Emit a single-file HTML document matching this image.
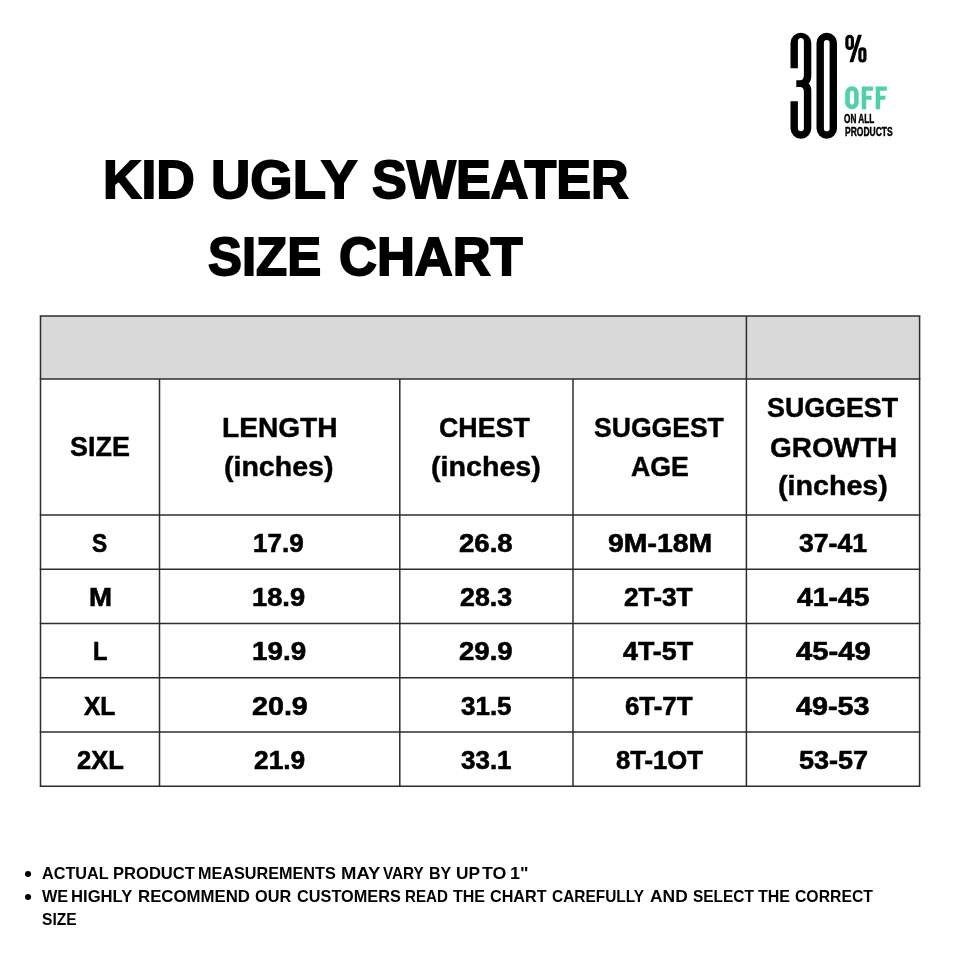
<!DOCTYPE html>
<html lang="en">
<head>
<meta charset="utf-8">
<title>Kid Ugly Sweater Size Chart</title>
<style>
html,body{margin:0;padding:0;background:#fff;}
body{width:960px;height:960px;position:relative;overflow:hidden;font-family:"Liberation Sans",sans-serif;color:#000;}
.t{position:absolute;white-space:nowrap;line-height:1;font-weight:700;transform-origin:0 0;display:block;}
svg{position:absolute;left:0;top:0;overflow:visible;}
#grid line{stroke:#2c2c2c;stroke-width:1.5;}
#txt{position:absolute;left:0;top:0;width:960px;height:960px;will-change:transform;}
.dot{position:absolute;width:5px;height:5px;border-radius:50%;background:#000;}
</style>
</head>
<body>
<svg id="grid" width="960" height="960" viewBox="0 0 960 960">
<rect x="40.5" y="316.0" width="879.1" height="63.0" fill="#d9d9d9"/>
<line x1="39.75" x2="920.35" y1="316.0" y2="316.0"/>
<line x1="39.75" x2="920.35" y1="379.0" y2="379.0"/>
<line x1="39.75" x2="920.35" y1="515.1" y2="515.1"/>
<line x1="39.75" x2="920.35" y1="569.3" y2="569.3"/>
<line x1="39.75" x2="920.35" y1="623.5" y2="623.5"/>
<line x1="39.75" x2="920.35" y1="677.8" y2="677.8"/>
<line x1="39.75" x2="920.35" y1="732.0" y2="732.0"/>
<line x1="39.75" x2="920.35" y1="786.2" y2="786.2"/>
<line x1="40.5" x2="40.5" y1="316.0" y2="786.2"/>
<line x1="919.6" x2="919.6" y1="316.0" y2="786.2"/>
<line x1="746.4" x2="746.4" y1="316.0" y2="786.2"/>
<line x1="159.5" x2="159.5" y1="379.0" y2="786.2"/>
<line x1="399.8" x2="399.8" y1="379.0" y2="786.2"/>
<line x1="573.0" x2="573.0" y1="379.0" y2="786.2"/>
</svg>
<svg id="badge" width="960" height="960" viewBox="0 0 960 960">
<path fill="#000" d="M790.5 68.3 V43.1 A10.4 10.4 0 0 1 811.3 43.1 V75.5 Q811.3 81.5 808.6 83.4 Q811.3 85.3 811.3 91.2 V128.3 A10.4 10.4 0 0 1 790.5 128.3 V101.2 H797.9 V128.3 A3 3 0 0 0 803.9 128.3 V92 Q803.9 86.9 800 86.9 H796.3 V80.3 H800 Q803.9 80.3 803.9 75 V41.5 A3 3.5 0 0 0 797.9 41.5 V68.3 Z"/>
<rect x="820.2" y="36.4" width="13.1" height="98.6" rx="6.55" ry="6.55" fill="none" stroke="#000" stroke-width="7.4"/>
<g fill="none" stroke="#000" stroke-width="3.2">
<rect x="846.9" y="36.3" width="5.5" height="12.1" rx="2.75"/>
<rect x="859.9" y="48.9" width="5" height="12.1" rx="2.5"/>
</g>
<path d="M858 34.7 H861.9 L853.3 62.3 H849.4 Z" fill="#000"/>
<g fill="#50d0a9">
<path fill-rule="evenodd" d="M845.2 93 A6.75 6.75 0 0 1 858.7 93 V102.6 A6.75 6.75 0 0 1 845.2 102.6 Z M849.8 93 V102.6 A2.15 2.15 0 0 0 854.1 102.6 V93 A2.15 2.15 0 0 0 849.8 93 Z"/>
<path d="M861.7 86.6 H873 V90.8 H866.2 V95.8 H871.6 V99.8 H866.2 V109.2 H861.7 Z"/>
<path d="M875.7 86.6 H886.8 V90.8 H880.2 V95.8 H885.4 V99.8 H880.2 V109.2 H875.7 Z"/>
</g>

<circle cx="28.05" cy="873.95" r="3.05" fill="#000"/>
<circle cx="28.05" cy="897.0" r="3.05" fill="#000"/>
</svg>
<div id="txt">
<span class="t" style="left:102.61px;top:153.40px;font-size:53.5px;transform:scaleX(0.9966);-webkit-text-stroke:1.8px #000">KID</span>
<span class="t" style="left:211.36px;top:153.40px;font-size:53.5px;transform:scaleX(1.0175);-webkit-text-stroke:1.8px #000">UGLY</span>
<span class="t" style="left:372.40px;top:153.40px;font-size:53.5px;transform:scaleX(0.9739);-webkit-text-stroke:1.8px #000">SWEATER</span>
<span class="t" style="left:208.30px;top:229.90px;font-size:53.5px;transform:scaleX(0.9515);-webkit-text-stroke:1.8px #000">SIZE</span>
<span class="t" style="left:339.42px;top:229.90px;font-size:53.5px;transform:scaleX(0.9811);-webkit-text-stroke:1.8px #000">CHART</span>
<span class="t" style="left:70.46px;top:432.38px;font-size:28.5px;transform:scaleX(0.9453);-webkit-text-stroke:0.45px #000">SIZE</span>
<span class="t" style="left:222.04px;top:413.07px;font-size:28.5px;transform:scaleX(0.9867);-webkit-text-stroke:0.45px #000">LENGTH</span>
<span class="t" style="left:224.42px;top:451.77px;font-size:28.5px;transform:scaleX(1.0016);-webkit-text-stroke:0.45px #000">(inches)</span>
<span class="t" style="left:439.47px;top:413.07px;font-size:28.5px;transform:scaleX(0.9396);-webkit-text-stroke:0.45px #000">CHEST</span>
<span class="t" style="left:431.42px;top:451.77px;font-size:28.5px;transform:scaleX(1.0053);-webkit-text-stroke:0.45px #000">(inches)</span>
<span class="t" style="left:593.71px;top:413.07px;font-size:28.5px;transform:scaleX(0.9317);-webkit-text-stroke:0.45px #000">SUGGEST</span>
<span class="t" style="left:631.41px;top:452.07px;font-size:28.5px;transform:scaleX(0.9379);-webkit-text-stroke:0.45px #000">AGE</span>
<span class="t" style="left:767.11px;top:393.47px;font-size:28.5px;transform:scaleX(0.9409);-webkit-text-stroke:0.45px #000">SUGGEST</span>
<span class="t" style="left:769.64px;top:432.57px;font-size:28.5px;transform:scaleX(0.9798);-webkit-text-stroke:0.45px #000">GROWTH</span>
<span class="t" style="left:777.92px;top:470.57px;font-size:28.5px;transform:scaleX(1.0053);-webkit-text-stroke:0.45px #000">(inches)</span>
<span class="t" style="left:92.06px;top:530.70px;font-size:25.8px;transform:scaleX(0.8807);-webkit-text-stroke:0.6px #000">S</span>
<span class="t" style="left:88.75px;top:584.90px;font-size:25.8px;transform:scaleX(1.0714);-webkit-text-stroke:0.6px #000">M</span>
<span class="t" style="left:92.86px;top:639.20px;font-size:25.8px;transform:scaleX(0.9178);-webkit-text-stroke:0.6px #000">L</span>
<span class="t" style="left:84.48px;top:693.50px;font-size:25.8px;transform:scaleX(0.9480);-webkit-text-stroke:0.6px #000">XL</span>
<span class="t" style="left:76.70px;top:747.70px;font-size:25.8px;transform:scaleX(0.9904);-webkit-text-stroke:0.6px #000">2XL</span>
<span class="t" style="left:253.39px;top:530.70px;font-size:25.8px;transform:scaleX(1.0099);-webkit-text-stroke:0.6px #000">17.9</span>
<span class="t" style="left:252.26px;top:584.90px;font-size:25.8px;transform:scaleX(1.0574);-webkit-text-stroke:0.6px #000">18.9</span>
<span class="t" style="left:251.85px;top:639.20px;font-size:25.8px;transform:scaleX(1.0776);-webkit-text-stroke:0.6px #000">19.9</span>
<span class="t" style="left:251.73px;top:693.50px;font-size:25.8px;transform:scaleX(1.1117);-webkit-text-stroke:0.6px #000">20.9</span>
<span class="t" style="left:253.81px;top:747.70px;font-size:25.8px;transform:scaleX(1.0206);-webkit-text-stroke:0.6px #000">21.9</span>
<span class="t" style="left:459.22px;top:530.70px;font-size:25.8px;transform:scaleX(1.0681);-webkit-text-stroke:0.6px #000">26.8</span>
<span class="t" style="left:460.11px;top:584.90px;font-size:25.8px;transform:scaleX(1.0384);-webkit-text-stroke:0.6px #000">28.3</span>
<span class="t" style="left:459.22px;top:639.20px;font-size:25.8px;transform:scaleX(1.0681);-webkit-text-stroke:0.6px #000">29.9</span>
<span class="t" style="left:461.05px;top:693.50px;font-size:25.8px;transform:scaleX(1.0067);-webkit-text-stroke:0.6px #000">31.5</span>
<span class="t" style="left:461.40px;top:747.70px;font-size:25.8px;transform:scaleX(1.0067);-webkit-text-stroke:0.6px #000">33.1</span>
<span class="t" style="left:608.08px;top:530.70px;font-size:25.8px;transform:scaleX(1.1006);-webkit-text-stroke:0.6px #000">9M-18M</span>
<span class="t" style="left:624.21px;top:584.90px;font-size:25.8px;transform:scaleX(1.0173);-webkit-text-stroke:0.6px #000">2T-3T</span>
<span class="t" style="left:623.41px;top:639.20px;font-size:25.8px;transform:scaleX(1.0400);-webkit-text-stroke:0.6px #000">4T-5T</span>
<span class="t" style="left:624.90px;top:693.50px;font-size:25.8px;transform:scaleX(1.0012);-webkit-text-stroke:0.6px #000">6T-7T</span>
<span class="t" style="left:615.90px;top:747.70px;font-size:25.8px;transform:scaleX(0.9945);-webkit-text-stroke:0.6px #000">8T-1OT</span>
<span class="t" style="left:798.51px;top:530.70px;font-size:25.8px;transform:scaleX(1.0312);-webkit-text-stroke:0.6px #000">37-41</span>
<span class="t" style="left:796.73px;top:584.90px;font-size:25.8px;transform:scaleX(1.0977);-webkit-text-stroke:0.6px #000">41-45</span>
<span class="t" style="left:795.54px;top:639.20px;font-size:25.8px;transform:scaleX(1.1339);-webkit-text-stroke:0.6px #000">45-49</span>
<span class="t" style="left:795.93px;top:693.50px;font-size:25.8px;transform:scaleX(1.1158);-webkit-text-stroke:0.6px #000">49-53</span>
<span class="t" style="left:798.51px;top:747.70px;font-size:25.8px;transform:scaleX(1.0478);-webkit-text-stroke:0.6px #000">53-57</span>
<span class="t" style="left:41.70px;top:864.90px;font-size:16.5px;transform:scaleX(0.9831)">ACTUAL</span>
<span class="t" style="left:113.00px;top:864.90px;font-size:16.5px;transform:scaleX(1.0037)">PRODUCT</span>
<span class="t" style="left:198.02px;top:864.90px;font-size:16.5px;transform:scaleX(0.9824)">MEASUREMENTS</span>
<span class="t" style="left:340.88px;top:864.90px;font-size:16.5px;transform:scaleX(1.1217)">MAY</span>
<span class="t" style="left:383.25px;top:864.90px;font-size:16.5px;transform:scaleX(0.9273)">VARY</span>
<span class="t" style="left:429.28px;top:864.90px;font-size:16.5px;transform:scaleX(0.9719)">BY</span>
<span class="t" style="left:455.75px;top:864.90px;font-size:16.5px;transform:scaleX(1.0495)">UP</span>
<span class="t" style="left:482.00px;top:864.90px;font-size:16.5px;transform:scaleX(1.0777)">TO</span>
<span class="t" style="left:509.66px;top:864.90px;font-size:16.5px;transform:scaleX(1.0905)">1&quot;</span>
<span class="t" style="left:42.10px;top:887.90px;font-size:16.5px;transform:scaleX(0.9859)">WE</span>
<span class="t" style="left:71.49px;top:887.90px;font-size:16.5px;transform:scaleX(1.0081)">HIGHLY</span>
<span class="t" style="left:137.73px;top:887.90px;font-size:16.5px;transform:scaleX(1.0180)">RECOMMEND</span>
<span class="t" style="left:255.25px;top:887.90px;font-size:16.5px;transform:scaleX(0.9878)">OUR</span>
<span class="t" style="left:296.50px;top:887.90px;font-size:16.5px;transform:scaleX(0.9875)">CUSTOMERS</span>
<span class="t" style="left:404.83px;top:887.90px;font-size:16.5px;transform:scaleX(0.9174)">READ</span>
<span class="t" style="left:453.25px;top:887.90px;font-size:16.5px;transform:scaleX(0.9714)">THE</span>
<span class="t" style="left:490.00px;top:887.90px;font-size:16.5px;transform:scaleX(0.9807)">CHART</span>
<span class="t" style="left:552.00px;top:887.90px;font-size:16.5px;transform:scaleX(0.9356)">CAREFULLY</span>
<span class="t" style="left:650.00px;top:887.90px;font-size:16.5px;transform:scaleX(1.0549)">AND</span>
<span class="t" style="left:692.50px;top:887.90px;font-size:16.5px;transform:scaleX(0.9352)">SELECT</span>
<span class="t" style="left:758.25px;top:887.90px;font-size:16.5px;transform:scaleX(0.9714)">THE</span>
<span class="t" style="left:794.50px;top:887.90px;font-size:16.5px;transform:scaleX(0.9546)">CORRECT</span>
<span class="t" style="left:41.90px;top:911.00px;font-size:16.5px;transform:scaleX(0.9436)">SIZE</span>
<span class="t" style="left:844.45px;top:113.18px;font-size:12.3px;transform:scaleX(0.6702);-webkit-text-stroke:0.45px #000">ON ALL</span>
<span class="t" style="left:844.66px;top:125.58px;font-size:12.3px;transform:scaleX(0.6903);-webkit-text-stroke:0.45px #000">PRODUCTS</span>
</div>
</body>
</html>
